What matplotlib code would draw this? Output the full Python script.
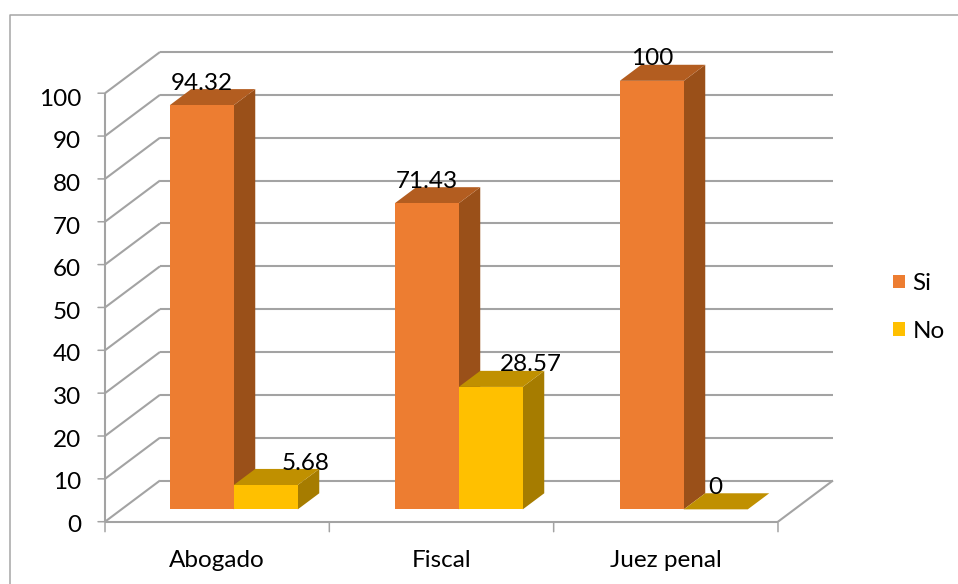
import matplotlib
matplotlib.use("Agg")
import matplotlib.pyplot as plt
from matplotlib.patches import Patch, Polygon

plt.rcParams['font.family'] = ['Lato', 'DejaVu Sans']

categories = ['Abogado', 'Fiscal', 'Juez penal']
si_values = [94.32, 71.43, 100]
no_values = [5.68, 28.57, 0]
y_ticks = list(range(0, 101, 10))

W, H = 958, 584
X0, Y0 = 105, 521.7        # pixel of the front corner of the floor
CAT_PX = 224.33            # width of one category
VAL_PX = 4.285             # pixels for one value unit
DEPTH_X, DEPTH_Y = 55 / CAT_PX, 41.2 / VAL_PX   # shift from front to back wall
BAR_W = 64 / CAT_PX
BAR_STEP = 225 / CAT_PX    # bars are spaced a little wider than the ticks
BAR_START = 48.3 / CAT_PX
BAR_D0, BAR_D1 = 0.30, 0.69

SI_COLORS = ('#ED7D31', '#9A5019', '#B35D20')
NO_COLORS = ('#FFC000', '#A67C00', '#C09000')
GRID = '#a3a3a3'
TEXT_SIZE = 17.5


def proj(x, v, d=0.0):
    """Puts a point of the 3D box (category, value, depth) on the flat axes."""
    return x + d * DEPTH_X, v + d * DEPTH_Y


def draw_bar(ax, x, value, colors):
    front, side, top = colors
    x1 = x + BAR_W
    ax.add_patch(Polygon([proj(x1, 0, BAR_D0), proj(x1, 0, BAR_D1),
                          proj(x1, value, BAR_D1), proj(x1, value, BAR_D0)],
                         fc=side, ec='none', zorder=3))
    ax.add_patch(Polygon([proj(x, value, BAR_D0), proj(x1, value, BAR_D0),
                          proj(x1, value, BAR_D1), proj(x, value, BAR_D1)],
                         fc=top, ec='none', zorder=3))
    ax.add_patch(Polygon([proj(x, 0, BAR_D0), proj(x1, 0, BAR_D0),
                          proj(x1, value, BAR_D0), proj(x, value, BAR_D0)],
                         fc=front, ec='none', zorder=3))


def px_to_pt(p):
    return p * 72 / 100


def value_label(ax, value, x, shift):
    # label sits about 22 px above the front edge of the bar top
    ax.annotate(str(value), proj(x, value, BAR_D0),
                xytext=(px_to_pt(shift), px_to_pt(22)), textcoords='offset points',
                ha='center', va='center', fontsize=TEXT_SIZE, zorder=5)


fig = plt.figure(figsize=(W / 100, H / 100), dpi=100, facecolor='white')
ax = fig.add_axes([0, 0, 1, 1])
ax.set_xlim(-X0 / CAT_PX, (W - X0) / CAT_PX)
ax.set_ylim(-(H - Y0) / VAL_PX, Y0 / VAL_PX)
ax.axis('off')

# outer frame, only the left and top sides are visible
fig.add_artist(plt.Line2D([9.5 / W, 9.5 / W, 1], [0, 1 - 15 / H, 1 - 15 / H],
                          color='#a6a6a6', lw=1.1))

n = len(categories)
line = dict(color=GRID, lw=1.5, solid_capstyle='butt', zorder=1)

# walls and gridlines
for t in y_ticks:
    xs, ys = zip(proj(0, t, 1), proj(n, t, 1))
    ax.plot(xs, ys, **line)
    xs, ys = zip(proj(0, t, 0), proj(0, t, 1))
    ax.plot(xs, ys, **line)
    ax.annotate(str(t), (0, t), xytext=(px_to_pt(-24), px_to_pt(-3.5 - t * 0.025)),
                textcoords='offset points', ha='right', va='center',
                fontsize=TEXT_SIZE, color='black')
    ax.annotate('', (0, t), xytext=(px_to_pt(-7), 0), textcoords='offset points',
                arrowprops=dict(arrowstyle='-', color=GRID, lw=1.1, shrinkA=0, shrinkB=0))

xs, ys = zip(proj(0, 0, 0), proj(0, 100, 0))
ax.plot(xs, ys, **line)
xs, ys = zip(proj(0, 0, 0), proj(n, 0, 0))
ax.plot(xs, ys, **line)
xs, ys = zip(proj(n, 0, 0), proj(n, 0, 1))
ax.plot(xs, ys, **line)

for i in range(n + 1):
    ax.annotate('', (i, 0), xytext=(0, px_to_pt(-10)), textcoords='offset points',
                arrowprops=dict(arrowstyle='-', color=GRID, lw=1.1, shrinkA=0, shrinkB=0))

# bars
for i in range(n):
    x_si = BAR_START + i * BAR_STEP
    x_no = x_si + BAR_W
    draw_bar(ax, x_si, si_values[i], SI_COLORS)
    draw_bar(ax, x_no, no_values[i], NO_COLORS)
    value_label(ax, si_values[i], x_si + BAR_W / 2, 0)
    value_label(ax, no_values[i], x_no + BAR_W / 2, 40 if no_values[i] > 0 else 0)
    ax.annotate(categories[i], (i + 0.5, 0), xytext=(0, px_to_pt(-39)),
                textcoords='offset points', ha='center', va='center',
                fontsize=TEXT_SIZE)

handles = [Patch(fc=SI_COLORS[0], ec='none'), Patch(fc=NO_COLORS[0], ec='none')]
ax.legend(handles, ['Si', 'No'], loc='center left', frameon=False,
          bbox_to_anchor=(893 / W, 1 - 307.5 / H), fontsize=TEXT_SIZE,
          handlelength=0.5, handleheight=0.5, handletextpad=0.3,
          labelspacing=1.1, borderpad=0.0, borderaxespad=0.0)

fig.savefig('out.png', dpi=100)
